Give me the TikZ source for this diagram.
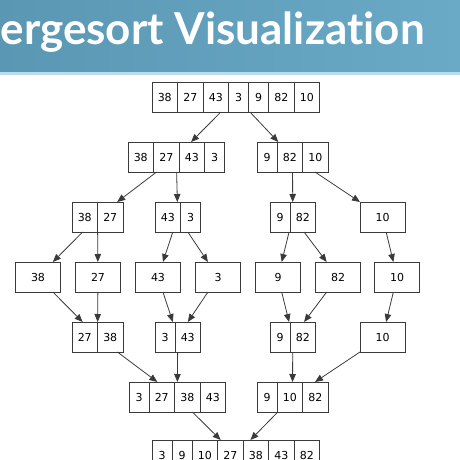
\documentclass[tikz,border=0pt]{standalone}
\usepackage{fontspec}
\setmainfont{DejaVu Sans}
\newfontfamily\headfont{Lato}[Ligatures=NoCommon]
\usetikzlibrary{positioning,fit,arrows.meta}

\definecolor{bandL}{HTML}{5A97B3}
\definecolor{bandR}{HTML}{6AAAC7}
\definecolor{bandedge}{HTML}{B8DDEC}
\definecolor{ink}{HTML}{3A3A3A}

\tikzset{
  cell/.style={draw=ink, line width=0.8pt, outer sep=0pt, inner sep=0pt,
    minimum height=30pt, font=\fontsize{11}{13}\selectfont},
  leaf/.style={cell, minimum width=45pt},
  row/.style={inner sep=0pt, outer sep=0pt},
  link/.style={draw=ink, line width=0.8pt, -{Triangle[length=8pt,width=6.5pt]}},
}

% one array of cells: name, left end x, centre y, values
\newcommand\cellrow[4]{%
  \foreach \v [count=\i, remember=\i as \j (initially 0)] in {#4}{%
    \pgfmathsetmacro\w{\v>9 ? 25.5 : 20}%
    \ifnum\i=1
      \node[cell, minimum width=\w pt, anchor=west] (#1-1) at (#2,#3) {\v};
    \else
      \node[cell, minimum width=\w pt, right=0pt of #1-\j] (#1-\i) {\v};
    \fi
    \xdef\lastcell{\i}%
  }%
  \node[row, fit=(#1-1) (#1-\lastcell)] (#1) {};%
}

\begin{document}
\begin{tikzpicture}[x=1pt,y=-1pt]
  \useasboundingbox (0,0) rectangle (460,460);
  % title band
  \shade[left color=bandL, right color=bandR] (0,0) rectangle (460,72);
  \fill[bandedge] (0,72) rectangle (460,74.5);
  \node[font=\headfont\bfseries\fontsize{44}{50}\selectfont, text=white,
    anchor=base east, inner sep=0pt] (title) at (425,45) {ergesort Visualization};

  % splitting
  \cellrow{root}{152}{97}{38,27,43,3,9,82,10}
  \cellrow{L}{128}{157}{38,27,43,3}
  \cellrow{R}{257}{157}{9,82,10}
  \cellrow{LL}{72}{217}{38,27}
  \cellrow{LR}{155}{217}{43,3}
  \cellrow{RL}{270}{217}{9,82}
  \node[leaf] (RR) at (382.5,217) {10};

  % single values
  \node[leaf] (l38) at (38,277) {38};
  \node[leaf] (l27) at (98,277) {27};
  \node[leaf] (l43) at (158,277) {43};
  \node[leaf] (l3) at (218,277) {3};
  \node[leaf] (l9) at (278,277) {9};
  \node[leaf] (l82) at (338,277) {82};
  \node[leaf] (l10) at (397,277) {10};

  % merging
  \cellrow{mLL}{72}{337}{27,38}
  \cellrow{mLR}{155}{337}{3,43}
  \cellrow{mRL}{270}{337}{9,82}
  \node[leaf] (mRR) at (382.5,337) {10};
  \cellrow{mL}{129}{397}{3,27,38,43}
  \cellrow{mR}{257}{397}{9,10,82}
  \cellrow{sorted}{152}{455}{3,9,10,27,38,43,82}

  \foreach \a/\b in {root/L, root/R, L/LL, L/LR, R/RL, R/RR,
      LL/l38, LL/l27, LR/l43, LR/l3, RL/l9, RL/l82, RR/l10,
      l38/mLL, l27/mLL, l43/mLR, l3/mLR, l9/mRL, l82/mRL, l10/mRR,
      mLL/mL, mLR/mL, mRL/mR, mRR/mR, mL/sorted, mR/sorted}
    \draw[link] (\a) -- (\b);
\end{tikzpicture}
\end{document}
